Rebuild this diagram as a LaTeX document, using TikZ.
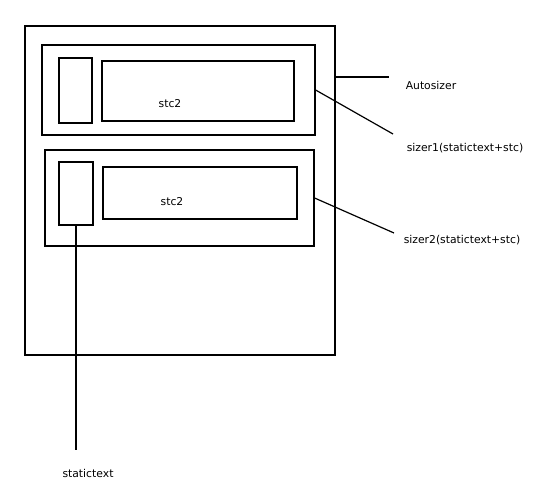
\documentclass[tikz,border=0pt]{standalone}
\usepackage{fontspec}
\setmainfont{DejaVu Sans}
\usepackage{tikz}

\tikzset{
  box/.style={draw, line width=1.2pt, inner sep=0pt},
  lbl/.style={font=\fontsize{10.8}{12}\selectfont, inner sep=0pt},
  pointer/.style={line width=1.2pt}
}

\begin{document}
\begin{tikzpicture}[x=1pt, y=-1pt]
    \useasboundingbox (0,0) rectangle (538,500);

    % --- Autosizer (cadre exterieur) ---
    \node[box, minimum width=310pt, minimum height=329pt] (outer) at (180,190.5) {};

    % --- sizer1 : statictext + stc ---
    \node[box, minimum width=273pt, minimum height=90pt] (sizer1) at (178.5,90) {};
    \node[box, minimum width=33pt, minimum height=65pt] (st1) at (75.5,90.5) {};
    \node[box, minimum width=192pt, minimum height=60pt] (stc1) at (198,91) {};
    \node[lbl] (tstc1) at (170,104) {stc2};

    % --- sizer2 : statictext + stc ---
    \node[box, minimum width=269pt, minimum height=96pt] (sizer2) at (179.5,198) {};
    \node[box, minimum width=34pt, minimum height=63pt] (st2) at (76,193.5) {};
    \node[box, minimum width=194pt, minimum height=52pt] (stc2) at (200,193) {};
    \node[lbl] (tstc2) at (172,202) {stc2};

    % --- Legendes ---
    \coordinate (eauto) at (389,77);
    \coordinate (es1) at (393,134);
    \coordinate (es2) at (394,233);
    \coordinate (est) at (77,450);
    \node[lbl] (tauto) at (431,85) {Autosizer};
    \node[lbl] (ts1) at (465,148) {sizer1(statictext+stc)};
    \node[lbl] (ts2) at (462,240) {sizer2(statictext+stc)};
    \node[lbl] (tst) at (88,473) {statictext};

    \draw[pointer] (outer.east |- eauto) -- (eauto);
    \draw[pointer] (sizer1.east) -- (es1);
    \draw[pointer] (sizer2.east) -- (es2);
    \draw[pointer] (st2.south) -- (st2.south |- est);

\end{tikzpicture}
\end{document}
